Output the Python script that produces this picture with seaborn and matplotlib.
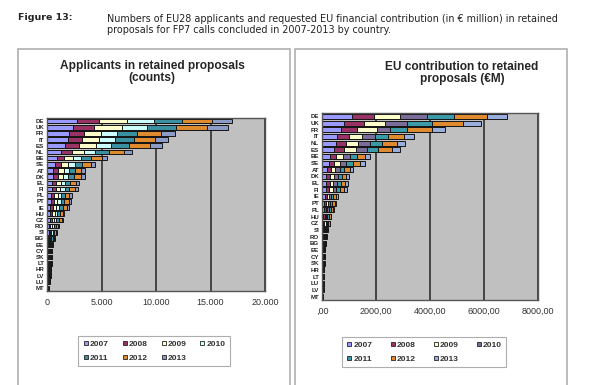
import pandas as pd
import matplotlib
matplotlib.use('Agg')
import matplotlib.pyplot as plt
from matplotlib.patches import Rectangle
from matplotlib.lines import Line2D
import seaborn as sns

years = ['2007', '2008', '2009', '2010', '2011', '2012', '2013']

# applicants in retained proposals (counts)
countries_n = ['DE', 'UK', 'FR', 'IT', 'ES', 'NL', 'BE', 'SE', 'AT', 'DK', 'EL', 'FI', 'PL', 'PT',
               'IE', 'HU', 'CZ', 'RO', 'SI', 'BG', 'EE', 'CY', 'SK', 'LT', 'HR', 'LV', 'LU', 'MT']
n2007 = [2780, 2410, 2040, 1900, 1650, 1300, 900, 750, 580, 560, 480, 470, 360, 350,
         320, 260, 240, 170, 140, 110, 80, 80, 75, 70, 60, 55, 40, 25]
n2008 = [2020, 1930, 1370, 1350, 1300, 950, 700, 550, 450, 430, 380, 360, 290, 280,
         250, 200, 190, 140, 110, 90, 65, 60, 60, 55, 50, 45, 30, 18]
n2009 = [2570, 2570, 1560, 1550, 1500, 1100, 800, 650, 500, 500, 420, 400, 330, 320,
         290, 230, 220, 160, 130, 100, 75, 70, 70, 65, 60, 55, 40, 22]
n2010 = [2480, 2290, 1470, 1400, 1400, 1050, 750, 600, 480, 470, 400, 390, 310, 300,
         280, 220, 210, 150, 130, 100, 70, 70, 65, 60, 55, 50, 35, 20]
n2011 = [2570, 2660, 1830, 1750, 1700, 1250, 900, 700, 550, 550, 450, 440, 350, 350,
         320, 250, 240, 180, 140, 110, 85, 80, 75, 75, 65, 60, 40, 24]
n2012 = [2750, 2840, 2200, 2000, 1900, 1400, 950, 750, 600, 600, 490, 470, 390, 380,
         340, 280, 250, 190, 160, 120, 95, 90, 85, 80, 75, 65, 45, 26]
n2013 = [1830, 1930, 1280, 1150, 1110, 750, 540, 430, 340, 340, 280, 270, 220, 220,
         200, 160, 150, 110, 90, 70, 50, 50, 50, 45, 45, 40, 30, 15]

# EU contribution to retained proposals (EUR million)
countries_e = ['DE', 'UK', 'FR', 'IT', 'NL', 'ES', 'BE', 'SE', 'AT', 'DK', 'EL', 'FI', 'IE', 'PT',
               'PL', 'HU', 'CZ', 'SI', 'RO', 'BG', 'EE', 'CY', 'SK', 'HR', 'LT', 'LU', 'LV', 'MT']
e2007 = [1110, 800, 720, 560, 500, 460, 290, 250, 180, 160, 160, 150, 95, 85,
         75, 55, 50, 35, 30, 25, 20, 18, 16, 14, 13, 11, 10, 6]
e2008 = [800, 740, 580, 430, 400, 370, 230, 200, 150, 130, 120, 120, 75, 70,
         60, 45, 40, 25, 25, 20, 15, 14, 13, 12, 10, 9, 8, 5]
e2009 = [990, 800, 740, 490, 440, 420, 260, 230, 160, 150, 140, 130, 85, 75,
         65, 50, 45, 30, 25, 20, 20, 16, 14, 13, 11, 10, 8, 6]
e2010 = [990, 800, 490, 490, 430, 400, 250, 220, 160, 140, 130, 130, 80, 75,
         65, 50, 45, 30, 25, 20, 15, 15, 14, 12, 11, 10, 8, 5]
e2011 = [1010, 930, 620, 490, 460, 440, 270, 240, 170, 150, 140, 140, 90, 80,
         70, 55, 45, 30, 30, 25, 20, 17, 15, 14, 12, 11, 9, 6]
e2012 = [1210, 1170, 930, 560, 540, 500, 300, 270, 200, 170, 160, 160, 100, 90,
         75, 60, 55, 35, 30, 25, 20, 18, 17, 15, 14, 12, 11, 7]
e2013 = [740, 650, 490, 370, 320, 310, 190, 170, 120, 110, 110, 100, 65, 55,
         50, 35, 30, 25, 20, 15, 15, 12, 11, 10, 9, 7, 6, 5]

colors_n = ['#9999ff', '#993366', '#ffffcc', '#ccffff', '#3a8fa0', '#e08a30', '#8c9cc8']
colors_e = ['#9999ff', '#993366', '#ffffcc', '#7a6d9a', '#3a9aa8', '#e08a30', '#9aaede']

df_n = pd.DataFrame(dict(zip(years, [n2007, n2008, n2009, n2010, n2011, n2012, n2013])),
                    index=countries_n)
df_e = pd.DataFrame(dict(zip(years, [e2007, e2008, e2009, e2010, e2011, e2012, e2013])),
                    index=countries_e)

sns.set_style('white')
plt.rcParams['font.family'] = ['Liberation Sans', 'DejaVu Sans']

fig = plt.figure(figsize=(6, 3.85), dpi=100)

# header
fig.text(18/600, 1 - 18/385, 'Figure 13:', fontsize=6.8, fontweight='bold',
         family='DejaVu Sans', va='center')
fig.text(107/600, 1 - 19/385,
         'Numbers of EU28 applicants and requested EU financial contribution (in \u20ac million) in retained',
         fontsize=6.9, family='DejaVu Sans', va='center', color='#222222')
fig.text(107/600, 1 - 30/385, 'proposals for FP7 calls concluded in 2007-2013 by country.',
         fontsize=6.9, family='DejaVu Sans', va='center', color='#222222')

# panel frames
for x0, x1 in [(18, 290), (295, 567)]:
    fig.patches.append(Rectangle((x0/600, -0.02), (x1 - x0)/600, 1 - 49/385 + 0.02,
                                 transform=fig.transFigure, fill=False,
                                 edgecolor='#b0b0b0', lw=1.2))


def stacked(ax, df, colors, xmax, ticks, ticklabels):
    ax.set_facecolor('#c0c0c0')
    cum = df.cumsum(axis=1)
    for i in range(len(years) - 1, -1, -1):
        sns.barplot(x=cum[years[i]].values, y=list(df.index), orient='h', color=colors[i],
                    saturation=1, edgecolor='#151515', linewidth=0.7, width=0.75, ax=ax)
    ax.set_xlim(0, xmax)
    ax.set_xticks(ticks)
    ax.set_xticklabels(ticklabels, fontsize=6.5, color='#333333')
    ax.set_axisbelow(True)
    ax.xaxis.grid(True, color='#3a3a3a', lw=1.3)
    ax.set_xlabel('')
    ax.set_ylabel('')
    ax.tick_params(axis='y', length=0, pad=2)
    ax.tick_params(axis='x', length=0, pad=5)
    for lab in ax.get_yticklabels():
        lab.set_fontsize(4.4)
        lab.set_fontweight('bold')
        lab.set_color('#222222')
    for s in ax.spines.values():
        s.set_color('#555555')
        s.set_linewidth(1)


ax1 = fig.add_axes([47/600, 1 - 291/385, 218/600, 173/385])
stacked(ax1, df_n, colors_n, 20000, [0, 5000, 10000, 15000, 20000],
        ['0', '5.000', '10.000', '15.000', '20.000'])
ax2 = fig.add_axes([322/600, 1 - 300/385, 216/600, 187/385])
stacked(ax2, df_e, colors_e, 8000, [0, 2000, 4000, 6000, 8000],
        [',00', '2000,00', '4000,00', '6000,00', '8000,00'])

fig.text(152/600, 1 - 72/385, 'Applicants in retained proposals\n(counts)', ha='center',
         va='center', fontsize=8.6, fontweight='bold', linespacing=1.1)
fig.text(462/600, 1 - 73/385, 'EU contribution to retained\nproposals (\u20acM)', ha='center',
         va='center', fontsize=8.6, fontweight='bold', linespacing=1.1)

# legend filled column by column, so order handles to read row by row
leg_order = [0, 4, 1, 5, 2, 6, 3]
for colors, cx, cy, cs in [(colors_n, 154/600, 1 - 351/385, 1.5),
                           (colors_e, 424/600, 1 - 352/385, 2.0)]:
    handles = [Line2D([], [], ls='', marker='s', markersize=3.5, markerfacecolor=colors[k],
                      markeredgecolor='#222222', markeredgewidth=0.6) for k in leg_order]
    labels = [years[k] for k in leg_order]
    leg = fig.legend(handles, labels, ncol=4, loc='center', bbox_to_anchor=(cx, cy),
                     fontsize=6, frameon=True, handlelength=0.8, handletextpad=0.1,
                     columnspacing=cs, borderpad=0.5, labelspacing=0.7, fancybox=False)
    leg.get_frame().set_edgecolor('#999999')
    leg.get_frame().set_linewidth(0.8)
    for t in leg.get_texts():
        t.set_fontweight('bold')
        t.set_color('#333333')

fig.savefig('out.png', dpi=100)
